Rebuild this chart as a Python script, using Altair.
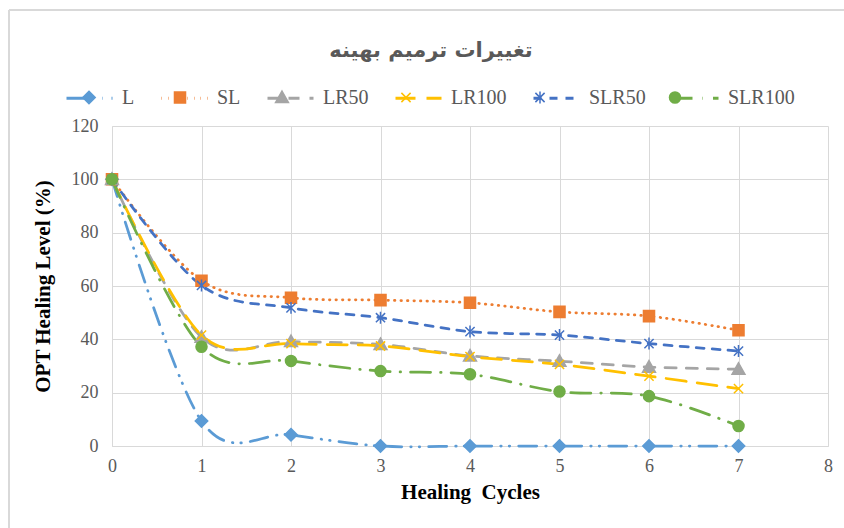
import altair as alt
import pandas as pd

cycles = [0, 1, 2, 3, 4, 5, 6, 7]
series = ["L", "SL", "LR50", "LR100", "SLR50", "SLR100"]
L = [100, 9.4, 4.2, 0, 0, 0, 0, 0]
SL = [100, 62.0, 55.6, 54.7, 53.7, 50.3, 48.7, 43.4]
LR50 = [100, 40.8, 39.2, 38.1, 33.8, 31.8, 29.6, 28.8]
LR100 = [100, 41.6, 38.4, 37.5, 33.5, 30.6, 26.2, 21.5]
SLR50 = [100, 60.2, 51.8, 48.1, 42.9, 41.6, 38.4, 35.6]
SLR100 = [100, 37.2, 31.9, 28.1, 26.9, 20.4, 18.7, 7.5]
values = [L, SL, LR50, LR100, SLR50, SLR100]

colors = ["#5B9BD5", "#ED7D31", "#A5A5A5", "#FFC000", "#4472C4", "#70AD47"]
dashes = [[18, 9, 0.5, 8, 0.5, 9], [0.5, 6], [11, 10], [20, 11], [8, 8], [20, 10, 0.5, 10]]
pad = "M-1,0M1,0"
shapes = [
    pad + "M0,-0.27L0.27,0L0,0.27L-0.27,0Z",
    pad + "M-0.24,-0.24H0.24V0.24H-0.24Z",
    pad + "M0,-0.28L0.28,0.22L-0.28,0.22Z",
    pad + "M-0.2,-0.2L0.2,0.2M-0.2,0.2L0.2,-0.2",
    pad + "M-0.2,-0.2L0.2,0.2M-0.2,0.2L0.2,-0.2M0,-0.26L0,0.26",
    pad + "M-0.24,0A0.24,0.24 0 1,0 0.24,0A0.24,0.24 0 1,0 -0.24,0Z",
]

rows = []
for s, vals in zip(series, values):
    for c, v in zip(cycles, vals):
        rows.append({"series": s, "series_b": s, "cycle": c, "value": v})
df = pd.DataFrame(rows)

title_text = "تغییرات ترمیم بهینه"
x_title = "Healing \u00a0Cycles"
y_title = "OPT Healing Level (%)"

SYM = 2116
LX, LY = -47, -52.5


def legend(**kw):
    return alt.Legend(
        orient="none", legendX=LX, legendY=LY, direction="horizontal", columns=6,
        title=None, labelFont="Liberation Serif", labelFontSize=20, labelColor="#595959",
        symbolSize=SYM, labelOffset=8, columnPadding=20, padding=0, labelLimit=0, **kw
    )


xenc = alt.X("cycle:Q", scale=alt.Scale(domain=[0, 8], nice=False),
             axis=alt.Axis(values=list(range(9)), title=x_title, format="d", labelFlush=False))
yenc = alt.Y("value:Q", scale=alt.Scale(domain=[0, 120], nice=False),
             axis=alt.Axis(values=list(range(0, 121, 20)), title=y_title, labelFlush=False))

lines = alt.Chart(df).mark_line(interpolate="cardinal", strokeWidth=2.75, strokeCap="round").encode(
    x=xenc, y=yenc,
    color=alt.Color("series:N", sort=None, scale=alt.Scale(range=colors),
                    legend=legend(symbolType="stroke", symbolStrokeWidth=3)),
    strokeDash=alt.StrokeDash("series:N", sort=None, scale=alt.Scale(range=dashes),
                              legend=legend(symbolType="stroke", symbolStrokeWidth=3)),
)

pts = alt.Chart(df).mark_point(filled=True, size=SYM, strokeWidth=1.5, opacity=1).encode(
    x=xenc, y=yenc,
    shape=alt.Shape("series_b:N", sort=None, scale=alt.Scale(range=shapes),
                    legend=legend(labelOpacity=0, symbolStrokeWidth=1.5)),
    fill=alt.Fill("series_b:N", sort=None, scale=alt.Scale(range=colors),
                  legend=legend(labelOpacity=0, symbolStrokeWidth=1.5)),
    stroke=alt.Stroke("series_b:N", sort=None, scale=alt.Scale(range=colors),
                      legend=legend(labelOpacity=0, symbolStrokeWidth=1.5)),
)

border_top = alt.Chart(df).mark_rule(color="#D9D9D9", strokeWidth=1.5).encode(
    x=alt.value(-103), x2=alt.value(732), y=alt.value(-116))
border_left = alt.Chart(df).mark_rule(color="#D9D9D9", strokeWidth=1.5).encode(
    x=alt.value(-103), y=alt.value(-116), y2=alt.value(402))

chart = alt.layer(border_top, border_left, lines, pts).properties(
    width=716, height=320,
    autosize=alt.AutoSizeParams(type="none"),
    padding={"left": 112, "top": 126, "right": 16, "bottom": 82},
    title=alt.TitleParams(title_text, font="DejaVu Sans", fontSize=21, fontWeight="bold",
                          color="#595959", offset=-52, dx=-39, anchor="middle"),
).configure_view(stroke=None).configure_axis(
    labelFont="Liberation Serif", labelFontSize=18, labelColor="#595959",
    titleFont="Liberation Serif", titleFontSize=21, titleFontWeight="bold", titleColor="#000000",
    gridColor="#D9D9D9", gridWidth=1, domainColor="#D9D9D9", domainWidth=1, ticks=False,
).configure_axisX(labelPadding=11, titlePadding=6).configure_axisY(labelPadding=14, titlePadding=18)

chart.save("out.html", embed_options={"renderer": "svg", "actions": False})
